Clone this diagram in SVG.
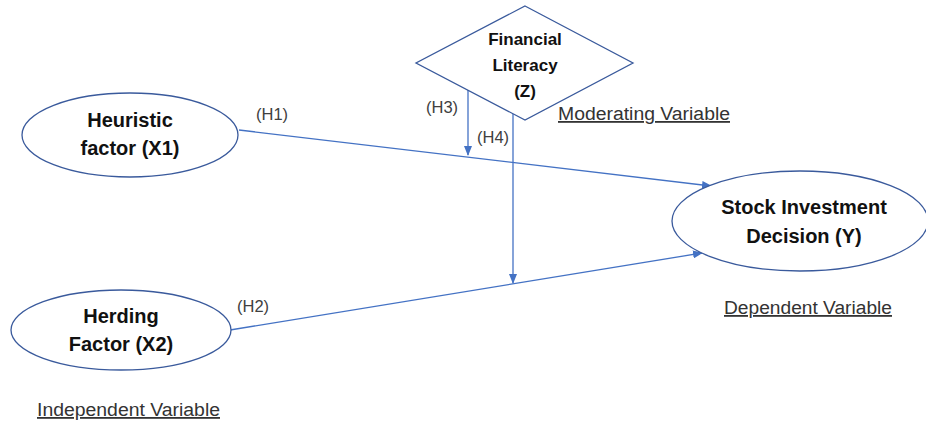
<svg xmlns="http://www.w3.org/2000/svg" width="926" height="423" viewBox="0 0 926 423">
<style>
.node{fill:#fff;stroke:#3A5A9C;stroke-width:1.3}
.nt{font-family:"Liberation Sans",Arial,sans-serif;font-weight:bold;fill:#111;text-anchor:middle}
.lbl{font-family:"Liberation Sans",Arial,sans-serif;font-size:16.5px;fill:#404040}
.cap{font-family:"Liberation Sans",Arial,sans-serif;font-size:18px;fill:#333;text-decoration:underline}
.conn{stroke:#4472C4;stroke-width:1.3;fill:none}
</style>
<defs>
<marker id="ah" markerWidth="10" markerHeight="8" refX="9" refY="4" orient="auto" markerUnits="userSpaceOnUse">
<path d="M0,0 L10,4 L0,8 Z" fill="#4472C4"/>
</marker>
</defs>
<rect width="926" height="423" fill="#fff"/>
<g id="connectors">
<line class="conn" x1="239" y1="130" x2="711" y2="186" marker-end="url(#ah)"/>
<line class="conn" x1="230" y1="330" x2="702" y2="253" marker-end="url(#ah)"/>
<line class="conn" x1="468" y1="90" x2="468" y2="155" marker-end="url(#ah)"/>
<line class="conn" x1="513" y1="114" x2="513" y2="283" marker-end="url(#ah)"/>
<text class="lbl" x="256" y="120">(H1)</text>
<text class="lbl" x="237" y="312">(H2)</text>
<text class="lbl" x="426" y="113">(H3)</text>
<text class="lbl" x="477" y="143">(H4)</text>
</g>
<g id="financial-literacy">
<polygon class="node" points="525,6 633,63 525,120 416,63"/>
<text class="nt" font-size="17" x="525" y="45">Financial</text>
<text class="nt" font-size="17" x="525" y="71">Literacy</text>
<text class="nt" font-size="17" x="525" y="97">(Z)</text>
</g>
<g id="heuristic">
<ellipse class="node" cx="130" cy="135" rx="108" ry="42"/>
<text class="nt" font-size="20" x="130" y="127">Heuristic</text>
<text class="nt" font-size="20" x="130" y="155">factor (X1)</text>
</g>
<g id="herding">
<ellipse class="node" cx="121" cy="330" rx="110" ry="40"/>
<text class="nt" font-size="20" x="121" y="323">Herding</text>
<text class="nt" font-size="20" x="121" y="351">Factor (X2)</text>
</g>
<g id="stock">
<ellipse class="node" cx="800" cy="221" rx="128" ry="50"/>
<text class="nt" font-size="20" x="804" y="214">Stock Investment</text>
<text class="nt" font-size="20" x="804" y="243">Decision (Y)</text>
</g>
<text class="cap" x="558" y="120" textLength="172" lengthAdjust="spacingAndGlyphs">Moderating Variable</text>
<text class="cap" x="724" y="314" textLength="168" lengthAdjust="spacingAndGlyphs">Dependent Variable</text>
<text class="cap" x="37" y="416" textLength="183" lengthAdjust="spacingAndGlyphs">Independent Variable</text>
</svg>
